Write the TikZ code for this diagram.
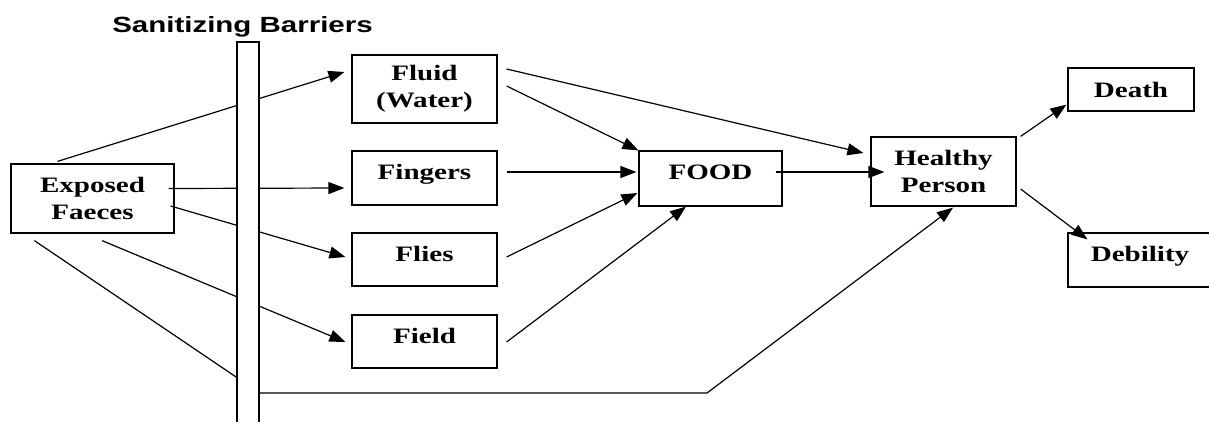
\documentclass[tikz,border=0pt]{standalone}
\usepackage{fontspec}
\newfontfamily\boxfont{Liberation Serif}[FakeStretch=1.32]
\newfontfamily\headfont{Liberation Sans}[FakeStretch=1.34]
\usetikzlibrary{arrows.meta,calc,backgrounds}
\tikzset{
  box/.style={draw,line width=1.2pt,inner sep=0pt,align=center,
    font=\boxfont\fontsize{22}{27}\selectfont\bfseries},
  onebox/.style={box,text depth=12pt},
  flow/.style={-{Triangle[length=16pt,width=12pt]},line width=1.2pt},
}
\begin{document}
\begin{tikzpicture}[x=1pt,y=-1pt]
\useasboundingbox (0,0) rectangle (1209,421);
% boxes
\node[box,minimum width=163pt,minimum height=69pt] (ef) at (92.5,198.5) {Exposed\\Faeces};
\node[box,minimum width=145pt,minimum height=68pt] (fluid) at (424.5,89) {Fluid\\(Water)};
\node[onebox,minimum width=145pt,minimum height=54pt] (fingers) at (424.5,178) {Fingers};
\node[onebox,minimum width=145pt,minimum height=53pt] (flies) at (424.5,259.5) {Flies};
\node[onebox,minimum width=145pt,minimum height=53pt] (field) at (424.5,341.5) {Field};
\node[onebox,minimum width=143pt,minimum height=55pt] (food) at (710.5,178.5) {FOOD};
\node[box,minimum width=145pt,minimum height=69pt] (healthy) at (943.5,171.5) {Healthy\\Person};
\node[box,minimum width=126pt,minimum height=43pt] (death) at (1131,89.5) {Death};
\node[onebox,minimum width=144pt,minimum height=54pt] (debility) at (1140,260) {Debility};
% barrier
\node[anchor=base,font=\headfont\fontsize{22}{26}\selectfont\bfseries] (title) at (242.5,32.5) {Sanitizing Barriers};
\node[draw,fill=white,line width=1.6pt,minimum width=22pt,minimum height=388pt,inner sep=0pt] (barrier) at (248,236) {};
\coordinate (turn) at (707,393);
\begin{scope}[on background layer]
\draw[flow] ($(ef.north west)+(47,-2)$) -- ($(fluid.west)+(-7,-17)$);
\draw[flow] ($(ef.east)+(-6,-10)$) -- ($(fingers.west)+(-7,10)$);
\draw[flow] ($(ef.east)+(-4,7.5)$) -- ($(flies.west)+(-6,-2.5)$);
\draw[flow] ($(ef.south)+(9.5,7)$) -- ($(field.west)+(-6,0.5)$);
\draw[flow] ($(ef.south west)+(24,7)$) -- ($(barrier.east)+(0,157)$) -- (turn) -- ($(healthy.south)+(9.5,1)$);
\draw[flow] ($(fluid.east)+(9,-3)$) -- (food.north west);
\draw[flow] ($(fluid.east)+(9,-20)$) -- ($(healthy.west)+(-7,-18.5)$);
\draw[flow] ($(fingers.east)+(9,-6)$) -- ($(food.west)+(-2,-6.5)$);
\draw[flow] ($(flies.east)+(9,-2.5)$) -- ($(food.west)+(-1,14.5)$);
\draw[flow] ($(field.east)+(9,0.5)$) -- ($(food.south)+(-24.5,0)$);
\draw[flow] ($(food.east)+(-7,-6.5)$) -- ($(healthy.west)+(14,0.5)$);
\draw[flow] ($(healthy.north east)+(4,0)$) -- ($(death.south west)+(-1,-7)$);
\draw[flow] ($(healthy.east)+(4,17.5)$) -- ($(debility.north west)+(20,7)$);
\end{scope}
\end{tikzpicture}
\end{document}
